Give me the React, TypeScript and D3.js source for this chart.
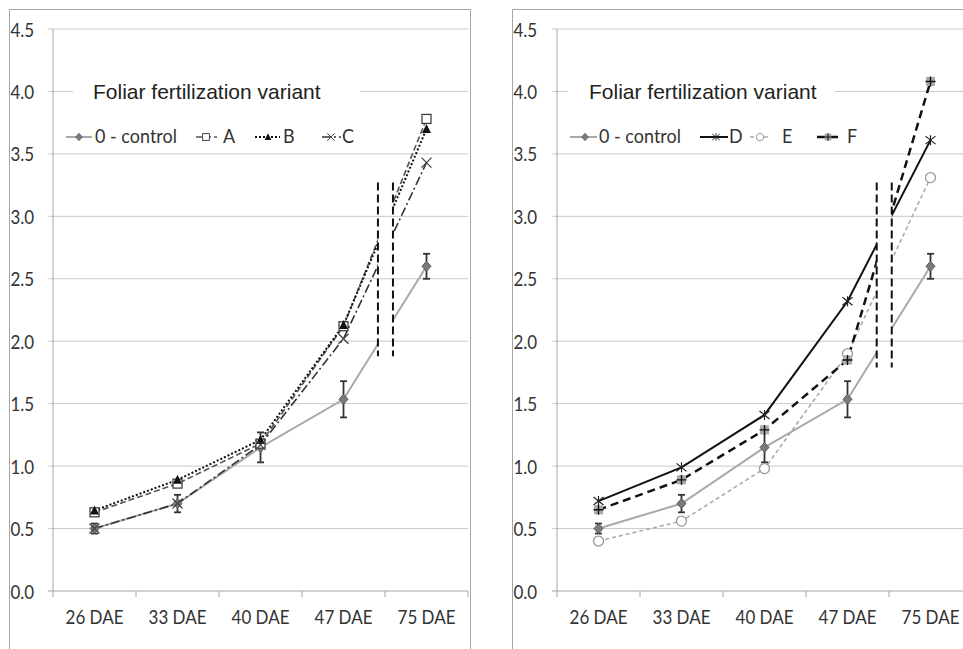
import React from 'react';
import * as d3 from 'd3';

// sampling dates
const categories = ['26 DAE', '33 DAE', '40 DAE', '47 DAE', '75 DAE'];
const yTicks = [0, 0.5, 1, 1.5, 2, 2.5, 3, 3.5, 4, 4.5];

// control (shown in both panels) with error bars
const control = [0.5, 0.7, 1.15, 1.535, 2.6];
const controlErr = [0.04, 0.07, 0.12, 0.145, 0.1];

// left panel variants
const variantA = [0.63, 0.86, 1.18, 2.12, 3.78];
const variantB = [0.645, 0.89, 1.21, 2.13, 3.7];
const variantC = [0.5, 0.7, 1.17, 2.02, 3.43];

// right panel variants
const variantD = [0.72, 0.99, 1.41, 2.32, 3.61];
const variantE = [0.4, 0.56, 0.98, 1.9, 3.31];
const variantF = [0.65, 0.89, 1.29, 1.85, 4.08];

const legendTitle = 'Foliar fertilization variant';

type Series = {
  label: string;
  values: number[];
  stroke: string;
  width: number;
  dash?: string;
  marker: string;
  err?: number[];
};

const controlSeries: Series = {
  label: '0 - control', values: control, stroke: '#a9a9a9', width: 2, marker: 'diamond', err: controlErr,
};

const leftSeries: Series[] = [
  controlSeries,
  { label: 'A', values: variantA, stroke: '#555', width: 1.6, dash: '6,3', marker: 'square' },
  { label: 'B', values: variantB, stroke: '#111', width: 2, dash: '2,2', marker: 'triangle' },
  { label: 'C', values: variantC, stroke: '#333', width: 1.6, dash: '9,3,2,3', marker: 'x' },
];

const rightSeries: Series[] = [
  controlSeries,
  { label: 'D', values: variantD, stroke: '#111', width: 2, marker: 'star' },
  { label: 'E', values: variantE, stroke: '#aaa', width: 1.6, dash: '4,3', marker: 'circle' },
  { label: 'F', values: variantF, stroke: '#111', width: 2.5, dash: '8,5', marker: 'plus' },
];

const tickFont = 'Lato, "Open Sans", sans-serif';
const titleFont = '"Liberation Sans", Arial, sans-serif';
const stretch = 1.12; // the source text is a little taller than wide

function Marker({ type, x, y }: { type: string; x: number; y: number }) {
  switch (type) {
    case 'diamond':
      return <path d={`M${x},${y - 5}L${x + 4.5},${y}L${x},${y + 5}L${x - 4.5},${y}Z`} fill="#7a7a7a" stroke="#5a5a5a" strokeWidth={1} />;
    case 'square':
      return <rect x={x - 4.5} y={y - 4.5} width={9} height={9} fill="#fff" stroke="#333" strokeWidth={1.2} />;
    case 'triangle':
      return <path d={`M${x},${y - 5}L${x + 4.5},${y + 4}L${x - 4.5},${y + 4}Z`} fill="#111" />;
    case 'x':
      return <path d={`M${x - 5},${y - 5}L${x + 5},${y + 5}M${x + 5},${y - 5}L${x - 5},${y + 5}`} stroke="#444" strokeWidth={1.3} />;
    case 'star':
      return <path d={`M${x - 5},${y - 4}L${x + 5},${y + 4}M${x + 5},${y - 4}L${x - 5},${y + 4}M${x},${y - 5}L${x},${y + 5}`} stroke="#222" strokeWidth={1.2} />;
    case 'circle':
      return <circle cx={x} cy={y} r={5} fill="#fff" stroke="#999" strokeWidth={1.3} />;
    case 'plus':
      return (
        <g>
          <rect x={x - 4.5} y={y - 4.5} width={9} height={9} fill="#aaa" />
          <path d={`M${x - 5},${y}L${x + 5},${y}M${x},${y - 5}L${x},${y + 5}`} stroke="#111" strokeWidth={1.4} />
        </g>
      );
    default:
      return null;
  }
}

type PanelProps = {
  x0: number;
  frameLeft: number;
  frameRight: number;
  series: Series[];
  titleX: number;
  titleBox: [number, number];
  legendPos: { line: [number, number]; mark: number; text: number }[];
  gap: { from: number; to: number; top: number; bottom: number };
  id: string;
};

function Panel({ x0, frameLeft, frameRight, series, titleX, titleBox, legendPos, gap, id }: PanelProps) {
  const x = d3.scaleBand<string>().domain(categories).range([x0, x0 + 415]).padding(0);
  const y = d3.scaleLinear().domain([0, 4.5]).range([591, 29]);
  const cx = (c: string) => (x(c) as number) + x.bandwidth() / 2;
  const line = d3
    .line<number>()
    .x((_, i) => cx(categories[i]))
    .y((d) => y(d));

  // break between 47 DAE and 75 DAE
  const c47 = cx(categories[3]);
  const c75 = cx(categories[4]);
  const gx1 = c47 + (c75 - c47) * gap.from;
  const gx2 = c47 + (c75 - c47) * gap.to;
  const gy1 = y(gap.top);
  const gy2 = y(gap.bottom);

  const gridLines = (
    <g>
      {yTicks.slice(1).map((t) => (
        <line key={t} x1={x0 - 5} x2={x0 + 415} y1={y(t)} y2={y(t)} stroke="#c9c9c9" strokeWidth={1} />
      ))}
    </g>
  );

  return (
    <g>
      <defs>
        <clipPath id={`gap-${id}`}>
          <rect x={gx1} y={gy1} width={gx2 - gx1} height={gy2 - gy1} />
        </clipPath>
      </defs>
      {/* chart frame */}
      <path d={`M${frameLeft},660V9.5H${frameRight}V660`} fill="none" stroke="#a6a6a6" strokeWidth={1} />
      {gridLines}
      {/* axes */}
      <line x1={x0} x2={x0 + 415} y1={y(0)} y2={y(0)} stroke="#a6a6a6" strokeWidth={1} />
      <line x1={x0} x2={x0} y1={y(4.5)} y2={y(0) + 6} stroke="#a6a6a6" strokeWidth={1} />
      <line x1={x0 - 5} x2={x0} y1={y(0)} y2={y(0)} stroke="#a6a6a6" strokeWidth={1} />
      {categories.map((c) => (
        <line key={c} x1={(x(c) as number) + x.bandwidth()} x2={(x(c) as number) + x.bandwidth()} y1={y(0)} y2={y(0) + 6} stroke="#a6a6a6" />
      ))}
      {yTicks.map((t) => (
        <text key={t} transform={`translate(${frameLeft + 1},${y(t) + 7.5}) scale(1,${stretch})`} fontFamily={tickFont} fontSize={17} fill="#333">
          {t.toFixed(1)}
        </text>
      ))}
      {categories.map((c) => (
        <text key={c} transform={`translate(${cx(c)},624) scale(1,${stretch})`} textAnchor="middle" fontFamily={tickFont} fontSize={17} fill="#333">
          {c}
        </text>
      ))}

      {/* legend title box over the gridline */}
      <rect x={titleBox[0]} y={80} width={titleBox[1] - titleBox[0]} height={26} fill="#fff" />
      <text x={titleX} y={99} fontFamily={titleFont} fontSize={21} fill="#222">
        {legendTitle}
      </text>
      {series.map((s, i) => {
        const p = legendPos[i];
        return (
          <g key={s.label}>
            <line x1={p.line[0]} x2={p.line[1]} y1={137} y2={137} stroke={s.stroke} strokeWidth={s.width} strokeDasharray={s.dash} />
            <g transform={`translate(${p.mark},137) scale(0.75) translate(${-p.mark},-137)`}>
              <Marker type={s.marker} x={p.mark} y={137} />
            </g>
            <text transform={`translate(${p.text},143) scale(1,${stretch})`} fontFamily={tickFont} fontSize={18} fill="#333">
              {s.label}
            </text>
          </g>
        );
      })}

      {/* series */}
      {series.map((s) => (
        <path key={s.label} d={line(s.values) as string} fill="none" stroke={s.stroke} strokeWidth={s.width} strokeDasharray={s.dash} />
      ))}
      {series.map((s) =>
        s.err
          ? s.values.map((v, i) => {
              const xx = cx(categories[i]);
              const e = s.err![i];
              return (
                <g key={`${s.label}-e${i}`} stroke="#333" strokeWidth={1.8}>
                  <line x1={xx} x2={xx} y1={y(v - e)} y2={y(v + e)} />
                  <line x1={xx - 3.5} x2={xx + 3.5} y1={y(v - e)} y2={y(v - e)} />
                  <line x1={xx - 3.5} x2={xx + 3.5} y1={y(v + e)} y2={y(v + e)} />
                </g>
              );
            })
          : null
      )}
      {series.map((s) =>
        s.values.map((v, i) => <Marker key={`${s.label}-m${i}`} type={s.marker} x={cx(categories[i])} y={y(v)} />)
      )}

      {/* axis break */}
      <rect x={gx1} y={gy1} width={gx2 - gx1} height={gy2 - gy1} fill="#fff" />
      <g clipPath={`url(#gap-${id})`}>{gridLines}</g>
      <line x1={gx1} x2={gx1} y1={gy1} y2={gy2} stroke="#111" strokeWidth={2} strokeDasharray="8,4" />
      <line x1={gx2} x2={gx2} y1={gy1} y2={gy2} stroke="#111" strokeWidth={2} strokeDasharray="8,4" />
    </g>
  );
}

export default function App() {
  return (
    <svg width={963} height={649} style={{ position: 'absolute', left: 0, top: 0, background: '#fff' }}>
      <rect width={963} height={649} fill="#fff" />
      <Panel
        id="l"
        x0={53}
        frameLeft={9.5}
        frameRight={470.5}
        series={leftSeries}
        titleX={93}
        titleBox={[73, 360]}
        legendPos={[
          { line: [66, 92], mark: 79, text: 95 },
          { line: [196, 217], mark: 206, text: 223 },
          { line: [255, 280], mark: 268, text: 283 },
          { line: [322, 341], mark: 331, text: 342 },
        ]}
        gap={{ from: 0.415, to: 0.596, top: 3.27, bottom: 1.88 }}
      />
      <Panel
        id="r"
        x0={557}
        frameLeft={512.5}
        frameRight={1000}
        series={rightSeries}
        titleX={589}
        titleBox={[568, 835]}
        legendPos={[
          { line: [570, 597], mark: 585, text: 599 },
          { line: [700, 728], mark: 716, text: 729 },
          { line: [750, 771], mark: 760, text: 782 },
          { line: [817, 841], mark: 828, text: 847 },
        ]}
        gap={{ from: 0.352, to: 0.533, top: 3.27, bottom: 1.79 }}
      />
    </svg>
  );
}
